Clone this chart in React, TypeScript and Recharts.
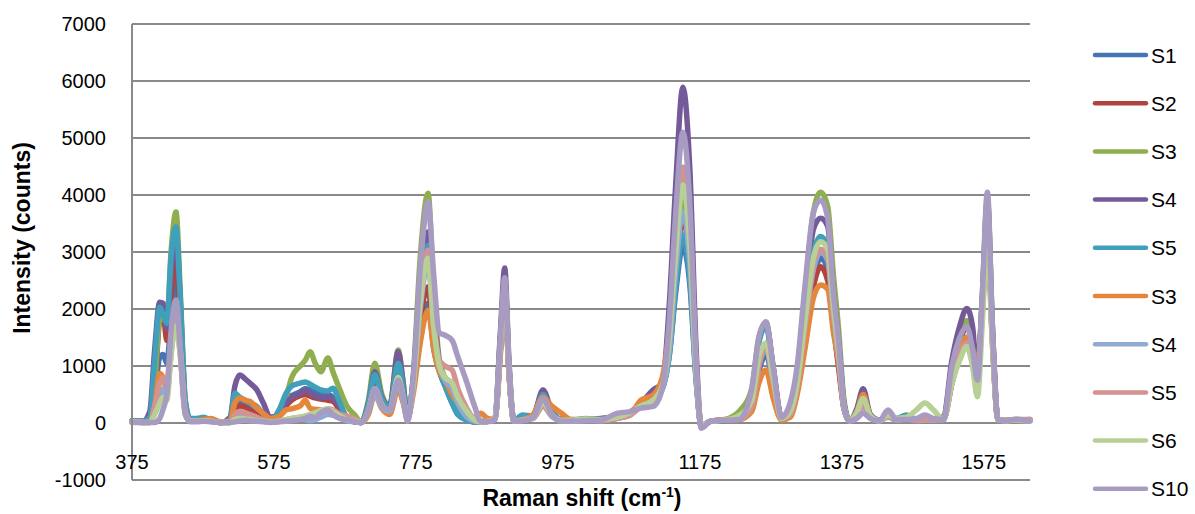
import React from 'react';
import { LineChart, Line, XAxis, YAxis, CartesianGrid, Legend } from 'recharts';

// Raman shift (cm-1), denser around the peaks
const shift = [
  375, 390, 400, 407, 414, 419, 424, 430, 437, 443, 450, 457,
  466, 476, 486, 500, 513, 520, 527, 534, 541, 551, 560, 570,
  583, 592, 600, 612, 619, 626, 633, 641, 651, 658, 668, 678,
  688, 698, 708, 717, 727, 738, 750, 757, 763, 771, 781, 792,
  800, 808, 816, 826, 834, 847, 858, 866, 876, 886, 894, 900,
  906, 913, 925, 940, 954, 966, 980, 995, 1015, 1035, 1058, 1076,
  1092, 1109, 1122, 1132, 1141, 1151, 1161, 1170, 1177, 1190, 1210, 1230,
  1248, 1258, 1268, 1278, 1290, 1302, 1312, 1323, 1335, 1345, 1355, 1363,
  1370, 1378, 1386, 1396, 1405, 1415, 1428, 1440, 1452, 1466, 1480, 1492,
  1504, 1518, 1530, 1541, 1551, 1559, 1566, 1573, 1580, 1587, 1595, 1605, 1620, 1640,
];

const s1 = [
  40, 30, 30, 500, 1150, 1200, 1050, 1800, 2600, 1600, 300, 60,
  60, 80, 40, 10, 20, 300, 350, 300, 250, 150, 80, 30,
  200, 400, 480, 550, 600, 580, 540, 500, 500, 450, 250, 80,
  20, 10, 250, 700, 350, 250, 900, 500, 80, 600, 1600, 2100,
  1300, 900, 650, 350, 150, 60, 20, 20, 30, 60, 1300, 2300,
  900, 30, 60, 100, 350, 150, 50, 40, 60, 40, 80, 150,
  300, 400, 600, 1200, 2300, 3100, 2400, 700, -50, 30, 50, 60,
  250, 900, 1200, 700, 80, 150, 600, 1500, 2500, 2900, 2700, 1800,
  1100, 250, 30, 150, 350, 120, 40, 120, 60, 80, 40, 50,
  60, 60, 700, 1200, 1500, 1300, 850, 2000, 3400, 1500, 60, 40, 50, 50,
];
const s2 = [
  30, 20, 20, 600, 1800, 1900, 1450, 2200, 2900, 1700, 300, 50,
  50, 60, 40, 10, 20, 250, 300, 280, 220, 150, 80, 30,
  150, 300, 400, 480, 500, 470, 440, 420, 400, 380, 220, 80,
  20, 10, 250, 750, 350, 250, 1000, 500, 80, 650, 1800, 2390,
  1400, 950, 700, 450, 250, 80, 20, 20, 30, 60, 1300, 2300,
  900, 30, 50, 100, 400, 150, 50, 60, 50, 70, 120, 180,
  330, 400, 650, 1300, 2600, 3600, 2700, 800, -50, 30, 50, 70,
  250, 1000, 1400, 800, 80, 150, 650, 1500, 2400, 2740, 2500, 1700,
  1000, 250, 30, 150, 400, 120, 40, 120, 60, 80, 40, 50,
  60, 70, 800, 1400, 1700, 1400, 900, 2100, 3500, 1500, 60, 40, 50, 60,
];
const s3 = [
  40, 30, 50, 700, 1800, 1850, 1750, 3000, 3700, 2300, 400, 60,
  60, 70, 40, 10, 10, 80, 120, 100, 80, 60, 40, 20,
  150, 450, 800, 1000, 1100, 1250, 1050, 900, 1140, 900, 580, 290,
  150, 20, 400, 1050, 500, 300, 1280, 700, 100, 800, 2900, 4030,
  2300, 1100, 800, 600, 350, 100, 30, 30, 30, 60, 1500, 2500,
  1000, 40, 60, 120, 500, 200, 60, 50, 80, 60, 120, 150,
  300, 420, 650, 1400, 2800, 3900, 2900, 800, -50, 30, 60, 200,
  600, 1500, 1770, 1000, 100, 300, 900, 2300, 3700, 4050, 3800, 2600,
  1700, 400, 40, 200, 450, 150, 50, 150, 80, 100, 60, 80,
  60, 115, 900, 1500, 1800, 1500, 900, 2300, 3950, 1700, 60, 50, 60, 50,
];
const s4 = [
  40, 30, 200, 1300, 2120, 2100, 1650, 2600, 3300, 2100, 350, 60,
  60, 80, 40, 10, 100, 650, 840, 780, 700, 580, 350, 100,
  150, 350, 450, 520, 580, 520, 480, 440, 460, 420, 290, 100,
  40, 10, 350, 900, 450, 300, 1250, 700, 100, 750, 2500, 3350,
  2000, 1050, 750, 500, 300, 100, 20, 20, 30, 80, 1600, 2720,
  1100, 40, 60, 120, 580, 220, 60, 50, 60, 80, 100, 180,
  350, 580, 700, 2100, 4200, 5890, 4400, 1200, -80, 30, 50, 80,
  550, 1450, 1750, 1000, 100, 250, 800, 2100, 3400, 3590, 3450, 2300,
  1500, 350, 40, 250, 600, 150, 50, 150, 60, 90, 50, 60,
  60, 100, 1100, 1700, 2010, 1700, 800, 2200, 3900, 1700, 60, 40, 50, 40,
];
const s5 = [
  40, 30, 100, 1100, 2030, 1900, 1750, 2900, 3440, 2200, 400, 80,
  80, 100, 50, 10, 50, 520, 450, 400, 350, 290, 150, 50,
  250, 520, 650, 700, 720, 680, 630, 580, 560, 610, 350, 80,
  30, 10, 330, 850, 420, 280, 1050, 600, 100, 700, 2400, 3120,
  1800, 950, 650, 350, 150, 50, 20, 20, 30, 60, 1400, 2400,
  950, 40, 140, 120, 500, 200, 60, 50, 70, 60, 120, 170,
  320, 400, 600, 1200, 2400, 3300, 2500, 700, -50, 30, 50, 80,
  500, 1400, 1700, 950, 80, 250, 750, 1900, 3000, 3270, 3100, 2100,
  1300, 300, 40, 200, 400, 120, 50, 130, 80, 140, 60, 60,
  50, 80, 900, 1300, 1500, 1300, 900, 2200, 3700, 1600, 70, 40, 60, 50,
];
const s3b = [
  20, 10, 10, 300, 870, 800, 600, 1300, 1800, 1200, 200, 40,
  40, 60, 80, 20, 30, 350, 440, 400, 380, 260, 170, 80,
  120, 230, 250, 300, 400, 260, 240, 230, 200, 170, 100, 50,
  30, 10, 150, 500, 250, 150, 600, 350, 80, 500, 1400, 1980,
  1300, 900, 750, 500, 350, 150, 100, 170, 80, 60, 1200, 2200,
  900, 40, 60, 150, 450, 300, 170, 50, 60, 50, 100, 150,
  400, 490, 800, 1700, 3200, 4400, 3300, 900, -50, 30, 60, 60,
  200, 700, 930, 450, 50, 100, 500, 1300, 2200, 2420, 2350, 1600,
  1100, 250, 40, 200, 500, 120, 40, 120, 50, 70, 40, 50,
  50, 60, 700, 1300, 1500, 1300, 980, 2100, 3200, 1400, 60, 40, 50, 40,
];
const s4b = [
  20, 10, 10, 200, 450, 600, 500, 1200, 1900, 1300, 200, 40,
  30, 40, 30, 10, 10, 100, 150, 120, 100, 60, 30, 20,
  30, 50, 60, 80, 60, 40, 60, 100, 150, 140, 80, 40,
  20, 10, 200, 500, 280, 200, 700, 400, 80, 600, 2000, 2800,
  1700, 1000, 750, 600, 350, 100, 30, 20, 30, 60, 1300, 2300,
  900, 30, 50, 80, 300, 120, 40, 30, 60, 40, 80, 150,
  280, 380, 600, 1300, 2700, 3700, 2800, 750, -50, 30, 50, 60,
  300, 1000, 1300, 750, 80, 150, 650, 1700, 2700, 3000, 2850, 1900,
  1200, 250, 30, 150, 300, 100, 40, 100, 50, 70, 40, 50,
  50, 60, 700, 1200, 1400, 1200, 800, 2000, 3500, 1500, 50, 40, 50, 40,
];
const s5b = [
  20, 10, 10, 300, 700, 800, 700, 1400, 2000, 1300, 200, 40,
  30, 40, 30, 10, 10, 150, 200, 180, 150, 100, 50, 20,
  40, 60, 80, 100, 120, 150, 180, 200, 250, 230, 150, 120,
  80, 20, 220, 600, 320, 220, 800, 450, 80, 650, 2200, 3030,
  1800, 1100, 1000, 930, 600, 250, 50, 20, 30, 60, 1300, 2300,
  900, 30, 50, 80, 300, 130, 50, 40, 60, 40, 80, 130,
  300, 400, 650, 1600, 3200, 4490, 3400, 900, -50, 30, 50, 60,
  300, 1000, 1350, 750, 80, 150, 650, 1700, 2800, 3050, 2900, 1950,
  1250, 280, 30, 150, 320, 120, 40, 110, 60, 80, 50, 60,
  60, 60, 700, 1200, 1400, 1200, 800, 2000, 3600, 1500, 60, 50, 60, 60,
];
const s6 = [
  20, 10, 10, 150, 350, 450, 400, 1200, 1700, 1200, 150, 30,
  30, 40, 30, 10, 10, 60, 80, 70, 60, 40, 30, 20,
  30, 60, 80, 100, 120, 150, 180, 220, 250, 200, 120, 60,
  40, 10, 220, 600, 320, 220, 800, 450, 80, 650, 2100, 2890,
  1700, 1000, 800, 700, 450, 200, 50, 20, 30, 60, 1400, 2400,
  950, 30, 50, 100, 350, 150, 40, 50, 70, 60, 100, 180,
  300, 400, 650, 1500, 3000, 4180, 3100, 850, -50, 30, 50, 130,
  400, 1150, 1400, 800, 80, 200, 700, 1800, 2900, 3180, 3050, 2050,
  1300, 300, 40, 180, 430, 130, 40, 140, 80, 100, 230, 350,
  230, 60, 700, 1100, 1340, 1000, 460, 1800, 3300, 1400, 60, 40, 50, 40,
];
const s10 = [
  10, 10, 10, 10, 80, 250, 500, 1600, 2160, 1300, 150, 20,
  20, 30, 20, 10, 10, 20, 40, 50, 40, 30, 20, 10,
  20, 30, 40, 60, 80, 120, 100, 180, 230, 150, 80, 60,
  30, 10, 220, 600, 320, 220, 750, 450, 30, 750, 2700, 3880,
  2600, 1580, 1540, 1450, 1160, 700, 280, 30, 20, 60, 1500, 2550,
  1000, 30, 40, 100, 430, 150, 30, 30, 40, 50, 170, 200,
  260, 290, 600, 1800, 3700, 5100, 3800, 1000, -90, 30, 50, 60,
  600, 1500, 1770, 1000, 100, 350, 1000, 2400, 3700, 3910, 3600, 2300,
  1500, 300, 30, 80, 170, 80, 40, 230, 60, 60, 80, 140,
  80, 60, 1000, 1500, 1690, 1300, 750, 2300, 4050, 1700, 50, 40, 60, 40,
];

const seriesNames = ['S1', 'S2', 'S3', 'S4', 'S5', 'S3', 'S4', 'S5', 'S6', 'S10'];
const seriesColors = [
  '#4575b4', '#b0433f', '#8fae4f', '#745a98', '#409fba',
  '#e6863a', '#90aad2', '#d49290', '#b8cf95', '#a79bc2',
];
const seriesValues = [s1, s2, s3, s4, s5, s3b, s4b, s5b, s6, s10];

const xTicks = [375, 575, 775, 975, 1175, 1375, 1575];
const yTicks = [-1000, 0, 1000, 2000, 3000, 4000, 5000, 6000, 7000];

const rows = shift.map((x, i) => {
  const row: Record<string, number> = { x };
  seriesValues.forEach((vals, k) => {
    row['k' + k] = vals[i];
  });
  return row;
});

const FONT = 'Liberation Sans, Arial, sans-serif';
const GRID = '#898989';

const XTick = (props: any) => (
  <text x={props.x} y={469} textAnchor="middle" fontSize={20} fontFamily={FONT} fill="#000">
    {props.payload.value}
  </text>
);

const YTick = (props: any) => (
  <text x={106} y={props.y} dy={7} textAnchor="end" fontSize={20} fontFamily={FONT} fill="#000">
    {props.payload.value}
  </text>
);

const YTitle = () => (
  <text
    transform="translate(30, 238) rotate(-90)"
    textAnchor="middle"
    fontSize={23}
    fontWeight="bold"
    fontFamily={FONT}
    fill="#000"
  >
    Intensity (counts)
  </text>
);

const XTitle = () => (
  <text x={582} y={506} textAnchor="middle" fontSize={23} fontWeight="bold" fontFamily={FONT} fill="#000">
    Raman shift (cm
    <tspan fontSize={14} dy={-9}>-1</tspan>
    <tspan dy={9}>)</tspan>
  </text>
);

const LegendBox = () => (
  <svg width={110} height={484}>
    {seriesNames.map((name, i) => {
      const y = 27 + i * 48.2;
      return (
        <g key={i}>
          <line x1={12} x2={63} y1={y} y2={y} stroke={seriesColors[i]} strokeWidth={4.5} strokeLinecap="round" />
          <text x={68} y={y} dy={7.5} fontSize={21} fontFamily={FONT} fill="#000">
            {name}
          </text>
        </g>
      );
    })}
  </svg>
);

export default function App() {
  return (
    <div style={{ position: 'absolute', left: 0, top: 0 }}>
      <LineChart
        width={1195}
        height={514}
        data={rows}
        margin={{ top: 24, right: 165, bottom: 4, left: 72 }}
      >
        <CartesianGrid vertical={false} stroke={GRID} strokeWidth={2} />
        <XAxis
          dataKey="x"
          type="number"
          domain={[375, 1640]}
          ticks={xTicks}
          interval={0}
          height={30}
          axisLine={false}
          tickLine={false}
          tick={<XTick />}
          label={<XTitle />}
        />
        <YAxis
          type="number"
          domain={[-1000, 7000]}
          ticks={yTicks}
          interval={0}
          width={60}
          axisLine={{ stroke: GRID, strokeWidth: 2 }}
          tickLine={false}
          tick={<YTick />}
          label={<YTitle />}
        />
        <Legend
          layout="vertical"
          align="center"
          verticalAlign="middle"
          content={<LegendBox />}
          wrapperStyle={{ left: 1083, top: 28, width: 110 }}
        />
        {seriesValues.map((_, k) => (
          <Line
            key={k}
            dataKey={'k' + k}
            name={seriesNames[k]}
            type="monotone"
            stroke={seriesColors[k]}
            strokeWidth={5.5}
            strokeLinejoin="round"
            strokeLinecap="round"
            dot={false}
            activeDot={false}
            isAnimationActive={false}
          />
        ))}
      </LineChart>
    </div>
  );
}
